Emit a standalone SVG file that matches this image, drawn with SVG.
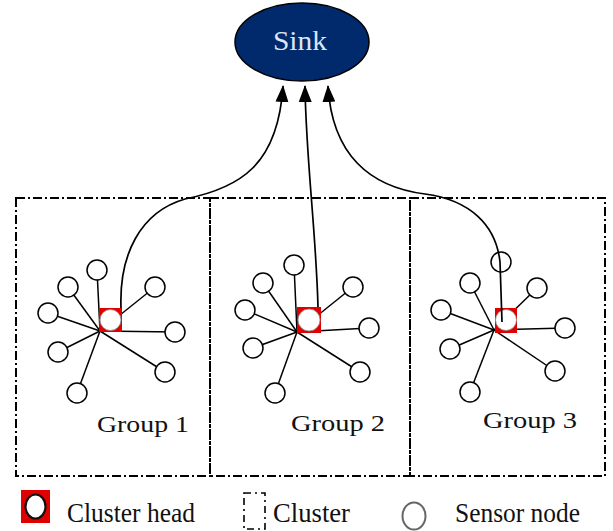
<svg xmlns="http://www.w3.org/2000/svg" width="613" height="531" viewBox="0 0 613 531">
<style>
.box{fill:none;stroke:#000;stroke-width:2;stroke-dasharray:9,3,2,3}
.sn{fill:#fff;stroke:#000;stroke-width:1.5}
.ln{stroke:#000;stroke-width:1.5;fill:none}
.ch{fill:#e00000}
.chc{fill:#fff;stroke:#888;stroke-width:0.8}
.lbl{font-family:"Liberation Serif","Times New Roman",serif;font-size:24px;fill:#111}
.leg{font-family:"Liberation Serif","Times New Roman",serif;font-size:27px;fill:#111}
.con{fill:none;stroke:#000;stroke-width:1.7}
</style>
<defs>
<marker id="ah" markerUnits="userSpaceOnUse" markerWidth="17" markerHeight="13" refX="16" refY="6.5" orient="auto" viewBox="0 0 17 13">
<path d="M0,0 L17,6.5 L0,13 Z" fill="#000"/>
</marker>
</defs>
<rect width="613" height="531" fill="#fff"/>

<g id="sink">
<ellipse cx="302" cy="42" rx="67" ry="39" fill="#002a6b" stroke="#000" stroke-width="1.5"/>
<text x="273" y="50" font-family="Liberation Serif,'Times New Roman',serif" font-size="28" fill="#dce6f4" textLength="54" lengthAdjust="spacingAndGlyphs">Sink</text>
</g>

<g id="cluster1">
<rect class="box" x="16" y="198" width="194" height="278"/>
<g class="ln">
<line x1="100" y1="331" x2="97" y2="270"/>
<line x1="100" y1="331" x2="68" y2="287"/>
<line x1="100" y1="331" x2="155" y2="287"/>
<line x1="100" y1="331" x2="48" y2="313"/>
<line x1="100" y1="331" x2="175" y2="332"/>
<line x1="100" y1="331" x2="58" y2="352"/>
<line x1="100" y1="331" x2="165" y2="372"/>
<line x1="100" y1="331" x2="77" y2="393"/>
</g>
<circle class="sn" cx="97" cy="270" r="10"/>
<circle class="sn" cx="68" cy="287" r="10"/>
<circle class="sn" cx="155" cy="287" r="10"/>
<circle class="sn" cx="48" cy="313" r="10"/>
<circle class="sn" cx="175" cy="332" r="10"/>
<circle class="sn" cx="58" cy="352" r="10"/>
<circle class="sn" cx="165" cy="372" r="10"/>
<circle class="sn" cx="77" cy="393" r="10"/>
<g id="head1"><rect class="ch" x="99" y="308" width="23" height="24"/><circle class="chc" cx="110.5" cy="320" r="10.5"/></g>
<text class="lbl" x="97" y="432" textLength="92" lengthAdjust="spacingAndGlyphs">Group 1</text>
</g>

<g id="cluster2">
<rect class="box" x="210" y="198" width="200" height="278"/>
<g class="ln">
<line x1="297" y1="332" x2="294" y2="265"/>
<line x1="297" y1="332" x2="263" y2="283"/>
<line x1="297" y1="332" x2="353" y2="287"/>
<line x1="297" y1="332" x2="245" y2="310"/>
<line x1="297" y1="332" x2="369" y2="328"/>
<line x1="297" y1="332" x2="253" y2="348"/>
<line x1="297" y1="332" x2="360" y2="372"/>
<line x1="297" y1="332" x2="275" y2="393"/>
</g>
<circle class="sn" cx="294" cy="265" r="10"/>
<circle class="sn" cx="263" cy="283" r="10"/>
<circle class="sn" cx="353" cy="287" r="10"/>
<circle class="sn" cx="245" cy="310" r="10"/>
<circle class="sn" cx="369" cy="328" r="10"/>
<circle class="sn" cx="253" cy="348" r="10"/>
<circle class="sn" cx="360" cy="372" r="10"/>
<circle class="sn" cx="275" cy="393" r="10"/>
<g id="head2"><rect class="ch" x="297" y="307" width="24" height="26"/><circle class="chc" cx="309" cy="320" r="11"/></g>
<text class="lbl" x="291" y="431" textLength="94" lengthAdjust="spacingAndGlyphs">Group 2</text>
</g>

<g id="cluster3">
<rect class="box" x="410" y="198" width="195" height="278"/>
<g class="ln">
<line x1="494" y1="330" x2="470" y2="283"/>
<line x1="494" y1="330" x2="537" y2="288"/>
<line x1="494" y1="330" x2="441" y2="310"/>
<line x1="494" y1="330" x2="565" y2="328"/>
<line x1="494" y1="330" x2="450" y2="349"/>
<line x1="494" y1="330" x2="555" y2="371"/>
<line x1="494" y1="330" x2="470" y2="392"/>
</g>
<circle class="sn" cx="501" cy="262" r="10"/>
<circle class="sn" cx="470" cy="283" r="10"/>
<circle class="sn" cx="537" cy="288" r="10"/>
<circle class="sn" cx="441" cy="310" r="10"/>
<circle class="sn" cx="565" cy="328" r="10"/>
<circle class="sn" cx="450" cy="349" r="10"/>
<circle class="sn" cx="555" cy="371" r="10"/>
<circle class="sn" cx="470" cy="392" r="10"/>
<g id="head3"><rect class="ch" x="495" y="308" width="22" height="25"/><circle class="chc" cx="506" cy="320" r="10.5"/></g>
<text class="lbl" x="483" y="428" textLength="94" lengthAdjust="spacingAndGlyphs">Group 3</text>
</g>

<g id="connectors">
<path class="con" d="M121,308 C119,255 140,212 185,199 C240,188 278,165 283,86" marker-end="url(#ah)"/>
<path class="con" d="M318,307 C316,230 306,160 305,86" marker-end="url(#ah)"/>
<path class="con" d="M502,322 L500,262 C496,225 470,200 425,194 C370,187 332,155 328,86" marker-end="url(#ah)"/>
</g>

<g id="legend">
<rect x="21" y="490" width="29" height="33" fill="#e00000"/>
<ellipse cx="35.5" cy="506.5" rx="10" ry="12" fill="#fff" stroke="#111" stroke-width="2.2"/>
<text class="leg" x="67" y="522" textLength="128" lengthAdjust="spacingAndGlyphs">Cluster head</text>
<rect x="244" y="493" width="21" height="36" fill="none" stroke="#000" stroke-width="1.6" stroke-dasharray="7,4,2,4"/>
<text class="leg" x="273" y="522" textLength="77" lengthAdjust="spacingAndGlyphs">Cluster</text>
<ellipse cx="414" cy="516" rx="11.5" ry="13.5" fill="#fff" stroke="#666" stroke-width="2"/>
<text class="leg" x="455" y="522" textLength="125" lengthAdjust="spacingAndGlyphs">Sensor node</text>
</g>
</svg>
